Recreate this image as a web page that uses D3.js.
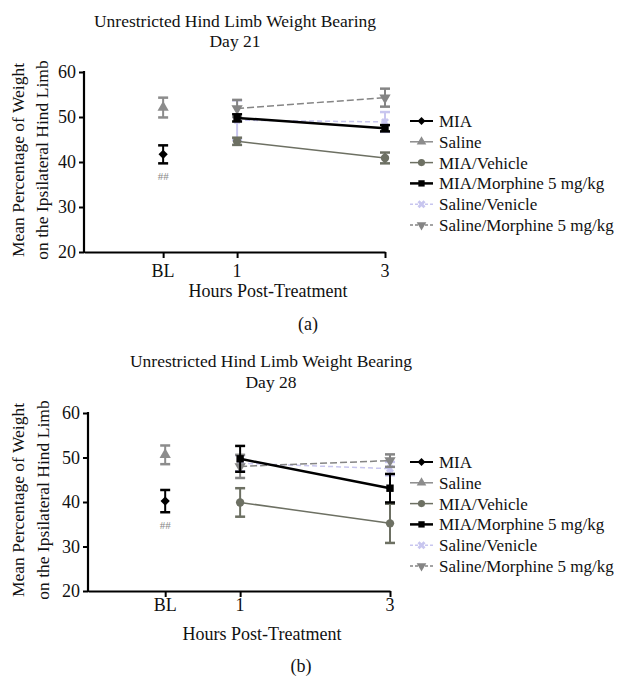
<!DOCTYPE html>
<html>
<head>
<meta charset="utf-8">
<script src="https://cdn.jsdelivr.net/npm/d3@7"></script>
<style>
  body { margin: 0; background: #fff; }
  svg text { font-family: "Liberation Serif", "Times New Roman", serif; fill: #111; }
</style>
</head>
<body>
<script>
// groups as written in the figure legend
const groupNames = ["MIA", "Saline", "MIA/Vehicle", "MIA/Morphine 5 mg/kg", "Saline/Venicle", "Saline/Morphine 5 mg/kg"];

// BL drawn at hour 0
const hourTicks = [0, 1, 3];
const hourTickLabels = ["BL", "1", "3"];
const seriesHours = [[0], [0], [1, 3], [1, 3], [1, 3], [1, 3]];
const yTicks = [20, 30, 40, 50, 60];

// day 21 (a)
const day21Means = [[41.7], [52.1], [44.6, 40.9], [49.8, 47.5], [49.3, 48.9], [51.9, 54.3]];
const day21Errors = [[2.0], [2.2], [0.8, 1.2], [0.8, 0.7], [4.4, 2.2], [1.9, 2.0]];

// day 28 (b)
const day28Means = [[40.2], [50.6], [39.9, 35.2], [49.7, 43.1], [48.7, 47.5], [48.0, 49.3]];
const day28Errors = [[2.5], [2.1], [3.2, 4.4], [2.9, 3.2], [1.8, 1.5], [2.6, 1.4]];

// MIA vs Saline at baseline
const blMark = "##";

// styles
const seriesColors = ["#000", "#8c8c8c", "#6d7063", "#000", "#c8c6ef", "#858585"];
const seriesDash = [null, null, null, null, "5,3", "7,3"];
const seriesWidth = [2, 1.5, 1.5, 2.5, 1.5, 1.5];
const seriesSymbols = [d3.symbolDiamond2, d3.symbolTriangle, d3.symbolCircle, d3.symbolSquare, d3.symbolCross, d3.symbolTriangle];
const seriesRotate = [0, 0, 0, 0, 45, 180];
const drawOrder = [4, 2, 5, 3, 0, 1];

const width = 617;
const height = 678;

const svg = d3.select("body").append("svg")
  .attr("width", width)
  .attr("height", height);

const panels = [
  {
    day: "Day 21", means: day21Means, errors: day21Errors,
    left: 84, right: 385, top: 72, bottom: 252, xMin: -1.07,
    titleX: 235, titleY: 27, titleGap: 20,
    ylabX: [18, 42], ylabY: 160, tickY: 277, xlabX: 268, xlabY: 297,
    tag: "(a)", tagX: 308, tagY: 330, legendY: 121
  },
  {
    day: "Day 28", means: day28Means, errors: day28Errors,
    left: 88, right: 390, top: 413, bottom: 591, xMin: -1.03,
    titleX: 271, titleY: 367, titleGap: 21,
    ylabX: [18, 43], ylabY: 500, tickY: 611, xlabX: 262, xlabY: 640,
    tag: "(b)", tagX: 301, tagY: 672, legendY: 462
  }
];

function drawPanel(p) {
  const g = svg.append("g");

  const x = d3.scaleLinear().domain([p.xMin, 3]).range([p.left, p.right]);
  const y = d3.scaleLinear().domain([20, 60]).range([p.bottom, p.top]);

  // titles
  g.append("text")
    .attr("x", p.titleX).attr("y", p.titleY)
    .attr("text-anchor", "middle")
    .style("font-size", "17.5px")
    .text("Unrestricted Hind Limb Weight Bearing");
  g.append("text")
    .attr("x", p.titleX).attr("y", p.titleY + p.titleGap)
    .attr("text-anchor", "middle")
    .style("font-size", "17.5px")
    .text(p.day);

  // y axis
  const yAxis = g.append("g")
    .attr("transform", "translate(" + p.left + ",0)")
    .call(d3.axisLeft(y).tickValues(yTicks).tickSize(5).tickPadding(3));
  yAxis.selectAll("text")
    .style("font-size", "18px")
    .style("font-family", "Liberation Serif, serif")
    .attr("fill", "#111");

  // x axis
  const xAxis = g.append("g")
    .attr("transform", "translate(0," + p.bottom + ")")
    .call(d3.axisBottom(x).tickValues(hourTicks).tickFormat((d, i) => hourTickLabels[i]).tickSize(6).tickSizeOuter(0));
  xAxis.selectAll("text").remove();
  hourTicks.forEach((h, i) => {
    g.append("text")
      .attr("x", x(h)).attr("y", p.tickY)
      .attr("text-anchor", "middle")
      .style("font-size", "18px")
      .text(hourTickLabels[i]);
  });

  [yAxis, xAxis].forEach((a) => {
    a.select(".domain").attr("stroke", "#000").attr("stroke-width", 2.2);
    a.selectAll(".tick line").attr("stroke", "#000").attr("stroke-width", 2);
  });
  yAxis.select(".domain").attr("d", "M0," + (p.top - 1) + "V" + (p.bottom + 1));

  // axis titles
  ["Mean Percentage of Weight", "on the Ipsilateral Hind Limb"].forEach((t, i) => {
    g.append("text")
      .attr("transform", "translate(" + p.ylabX[i] + "," + p.ylabY + ") rotate(-90)")
      .attr("text-anchor", "middle")
      .attr("dy", "0.35em")
      .style("font-size", "17.5px")
      .text(t);
  });
  g.append("text")
    .attr("x", p.xlabX).attr("y", p.xlabY)
    .attr("text-anchor", "middle")
    .style("font-size", "18px")
    .text("Hours Post-Treatment");
  g.append("text")
    .attr("x", p.tagX).attr("y", p.tagY)
    .attr("text-anchor", "middle")
    .style("font-size", "18px")
    .text(p.tag);

  // series
  drawOrder.forEach((s) => {
    const pts = seriesHours[s].map((h, i) => ({ h: h, m: p.means[s][i], e: p.errors[s][i] }));
    const col = seriesColors[s];
    const sg = g.append("g");

    if (pts.length > 1) {
      sg.append("path")
        .datum(pts)
        .attr("fill", "none")
        .attr("stroke", col)
        .attr("stroke-width", seriesWidth[s])
        .attr("stroke-dasharray", seriesDash[s])
        .attr("d", d3.line().x((d) => x(d.h)).y((d) => y(d.m)));
    }

    const bars = sg.selectAll(".err").data(pts).enter().append("g");
    bars.append("line")
      .attr("x1", (d) => x(d.h)).attr("x2", (d) => x(d.h))
      .attr("y1", (d) => y(d.m - d.e)).attr("y2", (d) => y(d.m + d.e))
      .attr("stroke", col).attr("stroke-width", 2);
    [-1, 1].forEach((k) => {
      bars.append("line")
        .attr("x1", (d) => x(d.h) - 5).attr("x2", (d) => x(d.h) + 5)
        .attr("y1", (d) => y(d.m + k * d.e)).attr("y2", (d) => y(d.m + k * d.e))
        .attr("stroke", col).attr("stroke-width", 2.5);
    });

    sg.selectAll(".pt").data(pts).enter().append("path")
      .attr("transform", (d) => "translate(" + x(d.h) + "," + y(d.m) + ") rotate(" + seriesRotate[s] + ")")
      .attr("d", d3.symbol().type(seriesSymbols[s]).size(s === 4 ? 40 : 55))
      .attr("fill", col);
  });

  // ## under the MIA baseline bar
  g.append("text")
    .attr("x", x(seriesHours[0][0])).attr("y", y(p.means[0][0] - p.errors[0][0]) + 17)
    .attr("text-anchor", "middle")
    .style("font-size", "11px")
    .style("fill", "#888")
    .text(blMark);

  // legend
  groupNames.forEach((name, s) => {
    const ly = p.legendY + s * 20.8;
    const lg = g.append("g");
    lg.append("line")
      .attr("x1", 410).attr("x2", 433).attr("y1", ly).attr("y2", ly)
      .attr("stroke", seriesColors[s])
      .attr("stroke-width", seriesWidth[s])
      .attr("stroke-dasharray", seriesDash[s] ? "3,2" : null);
    lg.append("path")
      .attr("transform", "translate(421.5," + ly + ") rotate(" + seriesRotate[s] + ")")
      .attr("d", d3.symbol().type(seriesSymbols[s]).size(40))
      .attr("fill", seriesColors[s]);
    lg.append("text")
      .attr("x", 439).attr("y", ly)
      .attr("dy", "0.35em")
      .style("font-size", "17px")
      .text(name);
  });
}

panels.forEach(drawPanel);
</script>
</body>
</html>
